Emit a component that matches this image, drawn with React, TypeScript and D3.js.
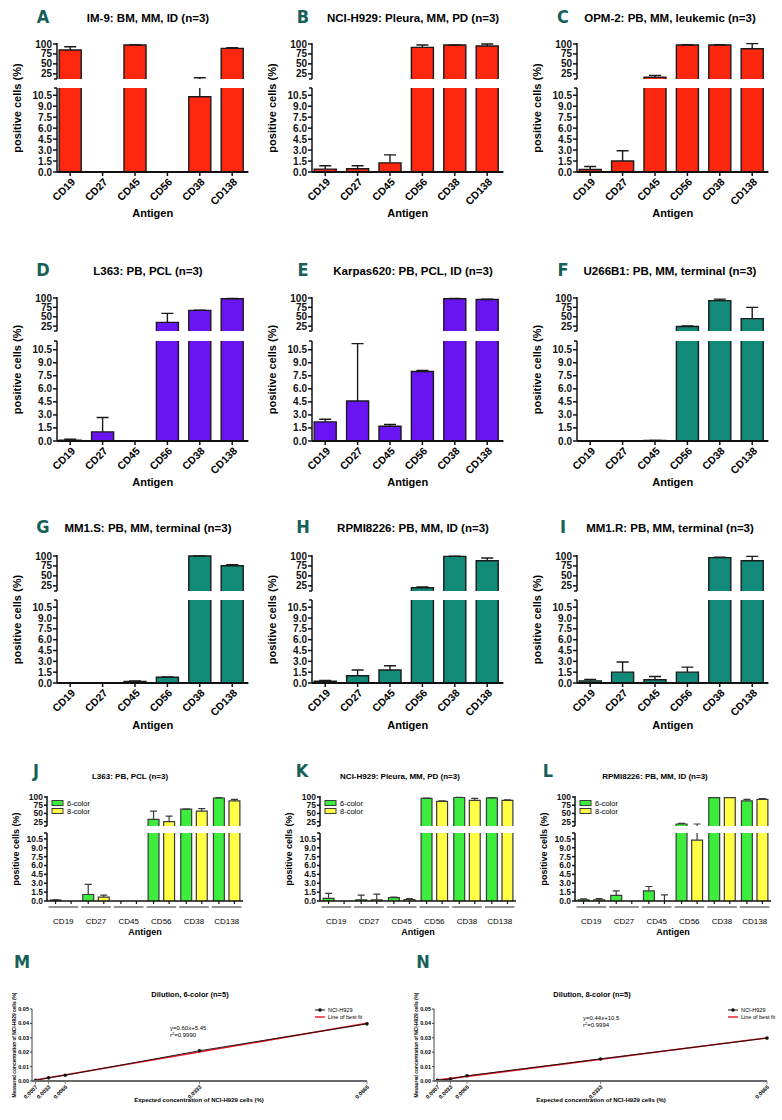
import React from 'react'
import * as d3 from 'd3'

const antigens = ['CD19', 'CD27', 'CD45', 'CD56', 'CD38', 'CD138']
const upperTicks = [25, 50, 75, 100]
const lowerTicks = [0, 1.5, 3, 4.5, 6, 7.5, 9, 10.5]

// mean and SD per antigen (positive cells, %)
const im9Mean = [85, 0, 97.5, 0, 10.3, 89]
const im9Sd = [8, 0, 1, 0, 4.7, 1.5]
const h929Mean = [0.4, 0.45, 1.25, 91.5, 97.5, 95]
const h929Sd = [0.45, 0.4, 1.1, 6, 0.4, 5]
const opm2Mean = [0.35, 1.5, 16.5, 97.5, 97.5, 88]
const opm2Sd = [0.4, 1.4, 4.5, 0.5, 0.8, 13]
const l363Mean = [0.1, 1.05, 0, 35, 67, 98]
const l363Sd = [0.1, 1.65, 0, 24, 0.5, 0.5]
const karpasMean = [2.2, 4.6, 1.7, 8.0, 98, 96]
const karpasSd = [0.3, 6.6, 0.2, 0.1, 1, 1]
const u266Mean = [0, 0, 0.05, 24, 93, 45]
const u266Sd = [0, 0, 0.02, 1.5, 4, 30]
const mm1sMean = [0, 0, 0.22, 0.8, 100, 75.5]
const mm1sSd = [0, 0, 0.08, 0.05, 0.2, 2.5]
const rpmiMean = [0.25, 1.0, 1.8, 20, 99, 88]
const rpmiSd = [0.1, 0.8, 0.6, 2, 0.5, 7]
const mm1rMean = [0.3, 1.5, 0.45, 1.5, 96, 88]
const mm1rSd = [0.2, 1.4, 0.45, 0.7, 1, 11]

// 6-color vs 8-color panels
const series = ['6-color', '8-color']
const l363Six = [0.15, 1.1, 0, 32, 63, 97]
const l363SixSd = [0.05, 1.7, 0, 25, 0.5, 1]
const l363Eight = [0, 0.65, 0, 25, 57, 88]
const l363EightSd = [0, 0.35, 0, 17, 8, 5]
const h929Six = [0.45, 0.2, 0.57, 96, 98.5, 97.5]
const h929SixSd = [0.85, 0.8, 0.08, 0.5, 0.5, 0.5]
const h929Eight = [0, 0.2, 0.22, 87, 90, 90]
const h929EightSd = [0, 0.95, 0.18, 1.5, 6, 1]
const rpmiSix = [0.2, 0.95, 1.7, 18, 98, 88]
const rpmiSixSd = [0.15, 0.75, 0.75, 2, 0.5, 5]
const rpmiEight = [0.2, 0, 0, 10.3, 98, 93]
const rpmiEightSd = [0.2, 0, 1.05, 7.7, 0.5, 2]

// dilution series
const expected = [0.0007, 0.0033, 0.0066, 0.0333, 0.0666]
const expectedLabels = ['0.0007', '0.0033', '0.0066', '0.0333', '0.0666']
const measuredSix = [0.0004, 0.0022, 0.004, 0.021, 0.0397]
const measuredEight = [0.0005, 0.0014, 0.0036, 0.0153, 0.0298]
const dilutionTicks = [0, 0.01, 0.02, 0.03, 0.04, 0.05]

const FONT = "'Liberation Sans', Arial, Helvetica, sans-serif"
const LETTER_FONT = "'Liberation Sans Narrow', 'DejaVu Sans Condensed', 'Liberation Sans', sans-serif"
const TEAL = '#17605a'
const RED = '#fd2710'
const PURPLE = '#6a14f4'
const GREENTEAL = '#128a7a'
const GREEN = '#3ded3d'
const YELLOW = '#ffff45'

const UP_MIN = 12
const LOW_MAX = 11.5

const ROWS = [
  { y100: 44, yUpBot: 79, yLowTop: 88, y0: 172, titleY: 22, antigenY: 217 },
  { y100: 298, yUpBot: 331, yLowTop: 341, y0: 441, titleY: 275, antigenY: 486 },
  { y100: 556, yUpBot: 591, yLowTop: 600, y0: 683, titleY: 532, antigenY: 729 }
]
const COLS = [
  { axisX: 57, letterX: 43, titleX: 148 },
  { axisX: 312, letterX: 303, titleX: 413 },
  { axisX: 577, letterX: 563, titleX: 670 }
]
const ROW4 = { y100: 797, yUpBot: 826, yLowTop: 833, y0: 901, titleY: 779, letterY: 777, labelY: 921, antigenY: 935 }
const COLS4 = [
  { axisX: 47, letterX: 36, titleX: 130 },
  { axisX: 320, letterX: 302, titleX: 400 },
  { axisX: 575, letterX: 548, titleX: 655 }
]

const singlePanels = [
  { letter: 'A', title: 'IM-9: BM, MM, ID (n=3)', means: im9Mean, sds: im9Sd, color: RED, row: 0, col: 0 },
  { letter: 'B', title: 'NCI-H929: Pleura, MM, PD (n=3)', means: h929Mean, sds: h929Sd, color: RED, row: 0, col: 1 },
  { letter: 'C', title: 'OPM-2: PB, MM, leukemic (n=3)', means: opm2Mean, sds: opm2Sd, color: RED, row: 0, col: 2 },
  { letter: 'D', title: 'L363: PB, PCL (n=3)', means: l363Mean, sds: l363Sd, color: PURPLE, row: 1, col: 0 },
  { letter: 'E', title: 'Karpas620: PB, PCL, ID (n=3)', means: karpasMean, sds: karpasSd, color: PURPLE, row: 1, col: 1 },
  { letter: 'F', title: 'U266B1: PB, MM, terminal (n=3)', means: u266Mean, sds: u266Sd, color: GREENTEAL, row: 1, col: 2 },
  { letter: 'G', title: 'MM1.S: PB, MM, terminal (n=3)', means: mm1sMean, sds: mm1sSd, color: GREENTEAL, row: 2, col: 0 },
  { letter: 'H', title: 'RPMI8226: PB, MM, ID (n=3)', means: rpmiMean, sds: rpmiSd, color: GREENTEAL, row: 2, col: 1 },
  { letter: 'I', title: 'MM1.R: PB, MM, terminal (n=3)', means: mm1rMean, sds: mm1rSd, color: GREENTEAL, row: 2, col: 2 }
]

const groupedPanels = [
  { letter: 'J', title: 'L363: PB, PCL (n=3)', six: l363Six, sixSd: l363SixSd, eight: l363Eight, eightSd: l363EightSd, col: 0 },
  { letter: 'K', title: 'NCI-H929: Pleura, MM, PD (n=3)', six: h929Six, sixSd: h929SixSd, eight: h929Eight, eightSd: h929EightSd, col: 1 },
  { letter: 'L', title: 'RPMI8226: PB, MM, ID (n=3)', six: rpmiSix, sixSd: rpmiSixSd, eight: rpmiEight, eightSd: rpmiEightSd, col: 2 }
]

type Row = { y100: number; yUpBot: number; yLowTop: number; y0: number }

function makeScales(row: Row) {
  return {
    up: d3.scaleLinear().domain([UP_MIN, 100]).range([row.yUpBot, row.y100]),
    lo: d3.scaleLinear().domain([0, LOW_MAX]).range([row.y0, row.yLowTop])
  }
}

function BrokenYAxis({ x, row, fs, tick }: { x: number; row: Row; fs: number; tick: number }) {
  const { up, lo } = makeScales(row)
  const fmt = d3.format('.1f')
  return (
    <g stroke="#111" strokeWidth={1.5} fontSize={fs} fontWeight="bold">
      <line x1={x} x2={x} y1={row.yUpBot} y2={up(100) - 1} />
      <line x1={x} x2={x} y1={row.y0} y2={row.yLowTop} />
      <line x1={x - 3} x2={x} y1={row.yUpBot} y2={row.yUpBot} />
      <line x1={x - 3} x2={x} y1={row.yLowTop} y2={row.yLowTop} />
      {upperTicks.map(t => (
        <g key={'u' + t}>
          <line x1={x - tick} x2={x} y1={up(t)} y2={up(t)} />
          <text x={x - tick - 1} y={up(t)} dy="0.35em" textAnchor="end" stroke="none" fill="#111">{t}</text>
        </g>
      ))}
      {lowerTicks.map(t => (
        <g key={'l' + t}>
          <line x1={x - tick} x2={x} y1={lo(t)} y2={lo(t)} />
          <text x={x - tick - 1} y={lo(t)} dy="0.35em" textAnchor="end" stroke="none" fill="#111">{fmt(t)}</text>
        </g>
      ))}
    </g>
  )
}

function BrokenBar({ x, w, v, sd, row, fill, stroke, sw, capW }: {
  x: number; w: number; v: number; sd: number; row: Row; fill: string; stroke: string; sw: number; capW: number
}) {
  const { up, lo } = makeScales(row)
  const x1 = x + w
  const cx = x + w / 2
  const parts: React.ReactNode[] = []
  if (v > 0) {
    const yl = lo(Math.min(v, LOW_MAX))
    const closed = v <= LOW_MAX
    parts.push(<rect key="lr" x={x} y={yl} width={w} height={row.y0 - yl} fill={fill} />)
    parts.push(
      <path key="lp" fill="none" stroke={stroke} strokeWidth={sw}
        d={closed ? `M${x},${row.y0}V${yl}H${x1}V${row.y0}` : `M${x},${row.y0}V${yl}M${x1},${yl}V${row.y0}`} />
    )
    if (v > UP_MIN) {
      const yu = up(v)
      parts.push(<rect key="ur" x={x} y={yu} width={w} height={row.yUpBot - yu} fill={fill} />)
      parts.push(<path key="up" fill="none" stroke={stroke} strokeWidth={sw} d={`M${x},${row.yUpBot}V${yu}H${x1}V${row.yUpBot}`} />)
    }
  }
  if (sd > 0) {
    const t = v + sd
    const err: string[] = []
    if (v <= LOW_MAX) {
      const yStart = lo(v)
      if (t <= LOW_MAX) {
        err.push(`M${cx},${yStart}V${lo(t)}M${cx - capW / 2},${lo(t)}H${cx + capW / 2}`)
      } else {
        err.push(`M${cx},${yStart}V${row.yLowTop}`)
        if (t > UP_MIN) err.push(`M${cx},${row.yUpBot}V${up(t)}M${cx - capW / 2},${up(t)}H${cx + capW / 2}`)
        else err.push(`M${cx - capW / 2},${row.yLowTop}H${cx + capW / 2}`)
      }
    } else {
      err.push(`M${cx},${up(v)}V${up(t)}M${cx - capW / 2},${up(t)}H${cx + capW / 2}`)
    }
    parts.push(<path key="err" d={err.join('')} fill="none" stroke={stroke} strokeWidth={sw} />)
  }
  return <g>{parts}</g>
}

function SinglePanel({ p }: { p: typeof singlePanels[number] }) {
  const row = ROWS[p.row]
  const col = COLS[p.col]
  const x = d3.scaleBand<string>().domain(antigens)
    .range([col.axisX - 3, col.axisX - 3 + 194.4]).paddingInner(0.32).paddingOuter(0.16)
  const xEnd = col.axisX - 3 + 194.4
  return (
    <g>
      <text x={col.letterX} y={row.titleY + 1} textAnchor="middle" fontFamily={LETTER_FONT} fontWeight="bold" fontSize={18} fill={TEAL}>{p.letter}</text>
      <text x={col.titleX} y={row.titleY} textAnchor="middle" fontWeight="bold" fontSize={11.5}>{p.title}</text>
      {antigens.map((a, i) => (
        <BrokenBar key={a} x={x(a)!} w={x.bandwidth()} v={p.means[i]} sd={p.sds[i]} row={row}
          fill={p.color} stroke="#1a1a1a" sw={1.4} capW={12} />
      ))}
      <BrokenYAxis x={col.axisX} row={row} fs={10} tick={4} />
      <line x1={col.axisX} x2={xEnd} y1={row.y0} y2={row.y0} stroke="#111" strokeWidth={2} />
      {antigens.map(a => {
        const cx = x(a)! + x.bandwidth() / 2
        return (
          <g key={'t' + a}>
            <line x1={cx} x2={cx} y1={row.y0} y2={row.y0 + 4} stroke="#111" strokeWidth={1.5} />
            <text transform={`translate(${cx + 3},${row.y0 + 8}) rotate(-45)`} textAnchor="end" dy="0.35em"
              fontWeight="bold" fontSize={10.5}>{a}</text>
          </g>
        )
      })}
      <text x={(col.axisX + xEnd) / 2} y={row.antigenY} textAnchor="middle" fontWeight="bold" fontSize={11}>Antigen</text>
      <text transform={`translate(${col.axisX - 40},${(row.y100 + row.y0) / 2}) rotate(-90)`} textAnchor="middle"
        dy="0.35em" fontWeight="bold" fontSize={11}>positive cells (%)</text>
    </g>
  )
}

function GroupedPanel({ p }: { p: typeof groupedPanels[number] }) {
  const row = ROW4
  const col = COLS4[p.col]
  const xEnd = col.axisX + 196
  const x0 = d3.scaleBand<string>().domain(antigens).range([col.axisX, xEnd])
  const x1 = d3.scaleBand<string>().domain(series).range([0, x0.bandwidth()]).paddingInner(0.3).paddingOuter(0.2)
  const colors = [GREEN, YELLOW]
  const vals = [p.six, p.eight]
  const sds = [p.sixSd, p.eightSd]
  return (
    <g>
      <text x={col.letterX} y={row.letterY} textAnchor="middle" fontFamily={LETTER_FONT} fontWeight="bold" fontSize={18} fill={TEAL}>{p.letter}</text>
      <text x={col.titleX} y={row.titleY} textAnchor="middle" fontWeight="bold" fontSize={8}>{p.title}</text>
      {antigens.map((a, i) => (
        <g key={a}>
          {series.map((s, k) => (
            <BrokenBar key={s} x={x0(a)! + x1(s)!} w={x1.bandwidth()} v={vals[k][i]} sd={sds[k][i]} row={row}
              fill={colors[k]} stroke="#3a3a3a" sw={1.2} capW={7} />
          ))}
        </g>
      ))}
      <BrokenYAxis x={col.axisX} row={row} fs={8.5} tick={3} />
      <line x1={col.axisX} x2={xEnd} y1={row.y0} y2={row.y0} stroke="#111" strokeWidth={1.6} />
      {antigens.map(a => (
        <g key={'g' + a}>
          {series.map(s => {
            const cx = x0(a)! + x1(s)! + x1.bandwidth() / 2
            return <line key={s} x1={cx} x2={cx} y1={row.y0} y2={row.y0 + 3} stroke="#111" strokeWidth={1.2} />
          })}
          <line x1={x0(a)! + 1.5} x2={x0(a)! + x0.bandwidth() - 1.5} y1={row.y0 + 6} y2={row.y0 + 6} stroke="#8a8a8a" strokeWidth={1.8} />
          <text x={x0(a)! + x0.bandwidth() / 2} y={row.labelY} textAnchor="middle" dy="0.35em" fontSize={8}>{a}</text>
        </g>
      ))}
      <text x={(col.axisX + xEnd) / 2} y={row.antigenY} textAnchor="middle" fontWeight="bold" fontSize={9}>Antigen</text>
      <text transform={`translate(${col.axisX - 31},${(row.y100 + row.y0) / 2}) rotate(-90)`} textAnchor="middle"
        dy="0.35em" fontWeight="bold" fontSize={9}>positive cells (%)</text>
      {series.map((s, k) => (
        <g key={'lg' + s}>
          <rect x={col.axisX + 5} y={800.5 + k * 8} width={11} height={5} fill={colors[k]} stroke="#3a3a3a" strokeWidth={1} />
          <text x={col.axisX + 20} y={803 + k * 8} dy="0.35em" fontSize={7.5}>{s}</text>
        </g>
      ))}
    </g>
  )
}

const dilutionPanels = [
  { letter: 'M', title: 'Dilution, 6-color (n=5)', measured: measuredSix, eq: 'y=0.60x+5.45', r2: '=0.9990',
    ox: 32, w: 335, letterX: 22, legendX: 315, eqX: 170, eqY: 1030 },
  { letter: 'N', title: 'Dilution, 8-color (n=5)', measured: measuredEight, eq: 'y=0.44x+10.5', r2: '=0.9994',
    ox: 434, w: 333, letterX: 423, legendX: 728, eqX: 583, eqY: 1020 }
]

function DilutionPanel({ p }: { p: typeof dilutionPanels[number] }) {
  const x = d3.scaleLinear().domain([0, 0.0666]).range([p.ox, p.ox + p.w])
  const y = d3.scaleLinear().domain([0, 0.05]).range([1081, 1009])
  const pts: [number, number][] = expected.map((e, i) => [e, p.measured[i]])
  const line = d3.line<[number, number]>().x(d => x(d[0])).y(d => y(d[1]))
  // least-squares line of best fit
  const mx = d3.mean(expected)!
  const my = d3.mean(p.measured)!
  const slope = d3.sum(expected, (e, i) => (e - mx) * (p.measured[i] - my)) / d3.sum(expected, e => (e - mx) ** 2)
  const icpt = my - slope * mx
  const fitX = [expected[0], expected[expected.length - 1]]
  const fmt = d3.format('.2f')
  return (
    <g>
      <text x={p.letterX} y={968} textAnchor="middle" fontFamily={LETTER_FONT} fontWeight="bold" fontSize={18} fill={TEAL}>{p.letter}</text>
      <text x={p.ox + 158} y={997} textAnchor="middle" fontWeight="bold" fontSize={7.5}>{p.title}</text>
      <line x1={p.ox} x2={p.ox} y1={1081} y2={y(0.05)} stroke="#111" strokeWidth={0.8} />
      {dilutionTicks.map(t => (
        <g key={t}>
          <line x1={p.ox - 2} x2={p.ox} y1={y(t)} y2={y(t)} stroke="#111" strokeWidth={0.8} />
          <text x={p.ox - 3} y={y(t)} dy="0.35em" textAnchor="end" fontSize={5.5} fontWeight="bold">{fmt(t)}</text>
        </g>
      ))}
      <line x1={fitX.map(v => x(v))[0]} x2={x(fitX[1])} y1={y(icpt + slope * fitX[0])} y2={y(icpt + slope * fitX[1])}
        stroke="#e8141c" strokeWidth={1.6} />
      <path d={line(pts)!} fill="none" stroke="#111" strokeWidth={0.9} />
      {pts.map((d, i) => <circle key={i} cx={x(d[0])} cy={y(d[1])} r={1.8} fill="#111" />)}
      <line x1={p.ox} x2={p.ox + p.w} y1={1081} y2={1081} stroke="#6a6a6a" strokeWidth={2} />
      {expected.map((e, i) => (
        <g key={'x' + i}>
          <line x1={x(e)} x2={x(e)} y1={1081} y2={1084} stroke="#6a6a6a" strokeWidth={0.8} />
          <text transform={`translate(${x(e) + 1},${1086}) rotate(-45)`} textAnchor="end" dy="0.35em" fontSize={5.5} fontWeight="bold">{expectedLabels[i]}</text>
        </g>
      ))}
      <text x={p.ox + 167} y={1102} textAnchor="middle" fontWeight="bold" fontSize={6}>Expected concentration of NCI-H929 cells (%)</text>
      <text transform={`translate(${p.ox - 18},${1045}) rotate(-90)`} textAnchor="middle" dy="0.35em" fontWeight="bold" fontSize={4.8}>Measured concentration of NCI-H929 cells (%)</text>
      <text x={p.eqX} y={p.eqY} fontSize={6}>{p.eq}</text>
      <text x={p.eqX} y={p.eqY + 7} fontSize={6}>r<tspan dy={-2} fontSize={4}>2</tspan><tspan dy={2}>{p.r2}</tspan></text>
      <line x1={p.legendX} x2={p.legendX + 10} y1={1010} y2={1010} stroke="#111" strokeWidth={1} />
      <circle cx={p.legendX + 5} cy={1010} r={1.8} fill="#111" />
      <text x={p.legendX + 13} y={1010} dy="0.35em" fontSize={5.5}>NCI-H929</text>
      <line x1={p.legendX} x2={p.legendX + 10} y1={1017} y2={1017} stroke="#e8141c" strokeWidth={1.4} />
      <text x={p.legendX + 13} y={1017} dy="0.35em" fontSize={5.5}>Line of best fit</text>
    </g>
  )
}

export default function App() {
  return (
    <svg width={782} height={1120} fontFamily={FONT}
      style={{ position: 'absolute', left: 0, top: 0, background: '#fff' }}>
      <rect width={782} height={1120} fill="#fff" />
      {singlePanels.map(p => <SinglePanel key={p.letter} p={p} />)}
      {groupedPanels.map(p => <GroupedPanel key={p.letter} p={p} />)}
      {dilutionPanels.map(p => <DilutionPanel key={p.letter} p={p} />)}
    </svg>
  )
}
